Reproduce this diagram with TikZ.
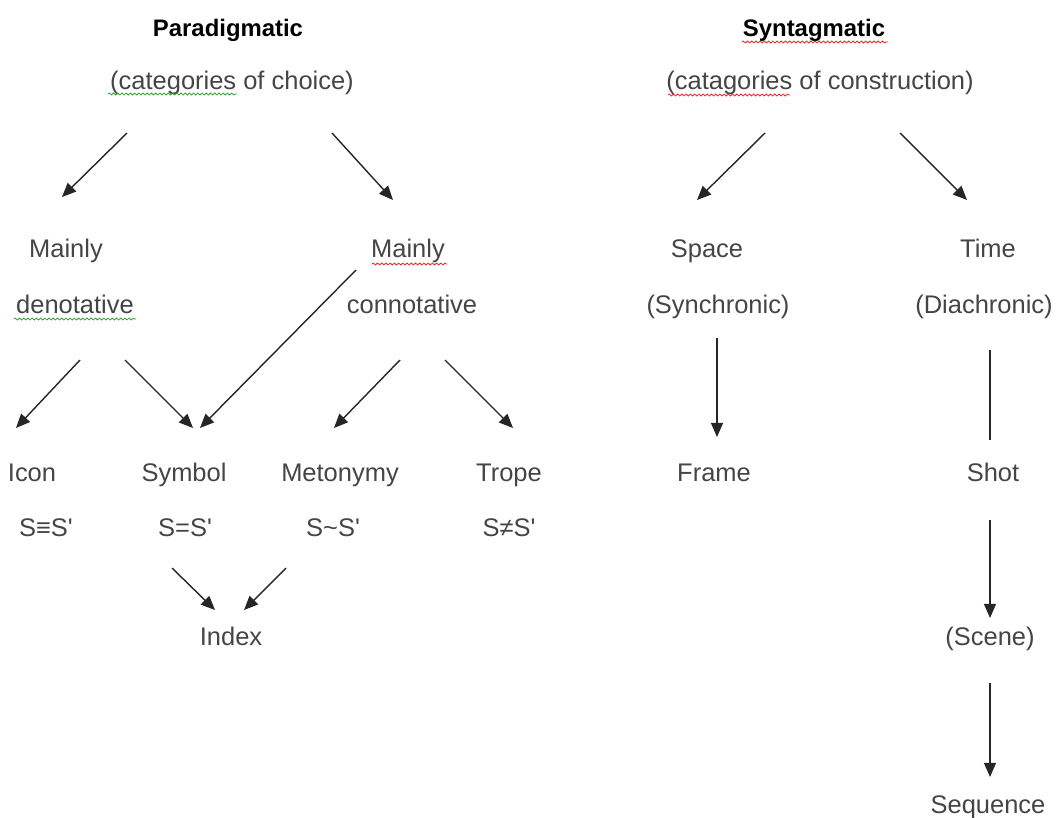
\documentclass[tikz,border=0pt]{standalone}
\usepackage{fontspec}
\setmainfont{Liberation Sans}
\usetikzlibrary{arrows.meta, decorations.pathmorphing}
\definecolor{txtgray}{HTML}{454545}
\definecolor{spellred}{HTML}{F02020}
\definecolor{spellgreen}{HTML}{30A030}

\begin{document}
\begin{tikzpicture}[x=0.02cm, y=-0.02cm,
    lbl/.style={inner sep=0pt, text height=12pt, text depth=1.5pt, text=txtgray, font=\fontsize{14.5}{17}\selectfont},
    title/.style={inner sep=0pt, text height=11.5pt, text depth=1.5pt, text=black, font=\fontsize{13.6}{16}\selectfont\bfseries},
    arr/.style={-{Triangle[length=8pt, width=6.8pt]}, line width=0.8pt, black!85},
    plain/.style={line width=0.8pt, black!85},
    squig/.style={decorate, decoration={snake, amplitude=0.55pt, segment length=2.4pt}, line width=0.45pt}]
    \useasboundingbox (0,0) rectangle (1058,818);

    % Kopfzeilen
    \node[title] (para) at (228,28) {Paradigmatic};
    \node[lbl] (choice) at (232,80) {(categories of choice)};
    \node[title] (synt) at (814,28) {Syntagmatic};
    \node[lbl] (constr) at (820,80) {(catagories of construction)};

    % zweite Ebene
    \node[lbl] (mainlyL) at (66,248) {Mainly};
    \node[lbl] (denot) at (75,304) {denotative};
    \node[lbl] (mainlyR) at (408,248) {Mainly};
    \node[lbl] (connot) at (412,304) {connotative};
    \node[lbl] (space) at (707,248) {Space};
    \node[lbl] (synch) at (718,304) {(Synchronic)};
    \node[lbl] (time) at (988,248) {Time};
    \node[lbl] (diach) at (984,304) {(Diachronic)};

    % dritte Ebene
    \node[lbl] (icon) at (32,472) {Icon};
    \node[lbl] (iconr) at (46,527) {S≡S\textquotesingle};
    \node[lbl] (symbol) at (184,472) {Symbol};
    \node[lbl] (symbolr) at (185,527) {S=S\textquotesingle};
    \node[lbl] (meto) at (340,472) {Metonymy};
    \node[lbl] (metor) at (333,527) {S\textasciitilde S\textquotesingle};
    \node[lbl] (trope) at (509,472) {Trope};
    \node[lbl] (troper) at (509,527) {S≠S\textquotesingle};
    \node[lbl] (index) at (231,636) {Index};
    \node[lbl] (frame) at (714,472) {Frame};
    \node[lbl] (shot) at (993,472) {Shot};
    \node[lbl] (scene) at (990,636) {(Scene)};
    \node[lbl] (seq) at (988,804) {Sequence};

    % Pfeile links
    \draw[arr] ([shift={(-105,53)}]choice.center) -- ([shift={(-4,-51)}]mainlyL.center);
    \draw[arr] ([shift={(100,53)}]choice.center) -- ([shift={(-15,-48)}]mainlyR.center);
    \draw[arr] ([shift={(5,56)}]denot.center) -- ([shift={(-16,-44)}]icon.center);
    \draw[arr] ([shift={(50,56)}]denot.center) -- ([shift={(9,-44)}]symbol.center);
    \draw[arr] ([shift={(-52,22)}]mainlyR.center) -- ([shift={(16,-44)}]symbol.center);
    \draw[arr] ([shift={(-12,56)}]connot.center) -- ([shift={(-6,-44)}]meto.center);
    \draw[arr] ([shift={(33,56)}]connot.center) -- ([shift={(4,-44)}]trope.center);
    \draw[arr] ([shift={(-13,41)}]symbolr.center) -- ([shift={(-16,-26)}]index.center);
    \draw[arr] ([shift={(-47,41)}]metor.center) -- ([shift={(13,-26)}]index.center);

    % Pfeile rechts
    \draw[arr] ([shift={(-55,53)}]constr.center) -- ([shift={(-10,-48)}]space.center);
    \draw[arr] ([shift={(80,53)}]constr.center) -- ([shift={(-21,-48)}]time.center);
    \draw[arr] ([shift={(-1,34)}]synch.center) -- ([shift={(3,-35)}]frame.center);
    \draw[plain] ([shift={(6,46)}]diach.center) -- ([shift={(-3,-32)}]shot.center);
    \draw[arr] ([shift={(-3,48)}]shot.center) -- ([shift={(0,-18)}]scene.center);
    \draw[arr] ([shift={(0,47)}]scene.center) -- ([shift={(2,-27)}]seq.center);

    % Wellenlinien
    \draw[squig, spellred] ([shift={(-72,14)}]synt.center) -- ([shift={(74,14)}]synt.center);
    \draw[squig, spellred] ([shift={(-152,15)}]constr.center) -- ([shift={(-30,15)}]constr.center);
    \draw[squig, spellgreen] ([shift={(-124,14)}]choice.center) -- ([shift={(5,14)}]choice.center);
    \draw[squig, spellred] ([shift={(-36,16)}]mainlyR.center) -- ([shift={(39,16)}]mainlyR.center);
    \draw[squig, spellgreen] ([shift={(-61,15)}]denot.center) -- ([shift={(61,15)}]denot.center);
\end{tikzpicture}
\end{document}
